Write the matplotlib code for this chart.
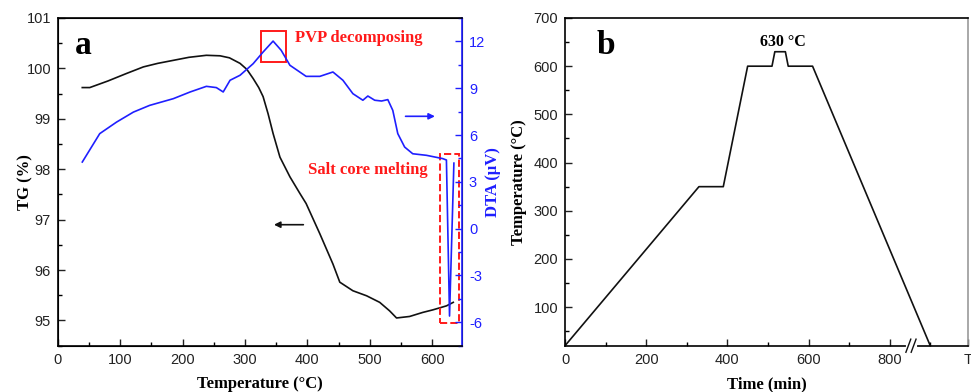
import matplotlib.pyplot as plt
from matplotlib.ticker import MultipleLocator
from matplotlib.patches import Rectangle

# panel a : TG / DTA
tg_T = [39, 51, 80, 110, 137, 160, 185, 210, 238, 260, 275, 292, 303, 313, 322, 329, 337, 345,
        356, 372, 388, 398, 420, 441, 452, 473, 495, 516, 532, 543, 564, 585, 601, 623, 634]
tg = [99.62, 99.62, 99.75, 99.9, 100.03, 100.1, 100.16, 100.22, 100.26, 100.25, 100.21,
      100.1, 99.98, 99.8, 99.62, 99.44, 99.1, 98.71, 98.24, 97.85, 97.52, 97.32, 96.72,
      96.12, 95.76, 95.59, 95.49, 95.36, 95.19, 95.05, 95.08, 95.16, 95.21, 95.29, 95.36]

dta_T = [39, 67, 94, 121, 147, 185, 212, 238, 254, 265, 276, 292, 313, 329, 345, 358,
         372, 398, 420, 441, 457, 473, 489, 497, 508, 519, 529, 537, 545, 556, 569, 591,
         617, 623, 628, 635]
dta = [4.27, 6.09, 6.83, 7.47, 7.9, 8.33, 8.76, 9.12, 9.04, 8.76, 9.51, 9.83, 10.57, 11.32,
       12.02, 11.43, 10.47, 9.76, 9.76, 10.04, 9.51, 8.65, 8.23, 8.5, 8.23, 8.18, 8.27, 7.58,
       6.09, 5.23, 4.8, 4.7, 4.49, 4.4, -5.6, 4.2]

# panel b : heating programme
time = [0, 330, 390, 450, 510, 517, 543, 550, 610, 900]
temp = [20, 350, 350, 600, 600, 630, 630, 600, 600, 20]

sans = 'Liberation Sans'
serif = 'Liberation Serif'
blue = '#1f1fff'
red = '#ff1a1a'

plt.rcParams['font.family'] = sans
plt.rcParams['xtick.direction'] = 'in'
plt.rcParams['ytick.direction'] = 'in'
plt.rcParams['axes.unicode_minus'] = False

fig = plt.figure(figsize=(9.71, 3.92), dpi=100)

# ---------------- panel a
ax = fig.add_axes([0.0597, 0.1181, 0.4161, 0.836])
ax2 = ax.twinx()
ax.plot(tg_T, tg, color='#111111', lw=1.2)
ax2.plot(dta_T, dta, color=blue, lw=1.2)

ax.set_xlim(0, 648)
ax.set_ylim(94.5, 101)
ax2.set_ylim(-7.5, 13.5)
ax.xaxis.set_major_locator(MultipleLocator(100))
ax.xaxis.set_minor_locator(MultipleLocator(50))
ax.yaxis.set_major_locator(MultipleLocator(1))
ax.yaxis.set_minor_locator(MultipleLocator(0.5))
ax2.yaxis.set_major_locator(MultipleLocator(3))
ax2.yaxis.set_minor_locator(MultipleLocator(1.5))

for a in (ax, ax2):
    a.tick_params(which='major', length=5, width=1, labelsize=10.5, pad=5)
    a.tick_params(which='minor', length=3, width=1)
ax.tick_params(colors='#222222')
ax2.tick_params(axis='y', which='both', colors=blue)
ax2.spines['right'].set_color(blue)
for s in ax2.spines.values():
    s.set_linewidth(1.2)

ax.set_xlabel('Temperature (\u00b0C)', fontsize=12, fontweight='bold', family=serif, labelpad=7)
ax.set_ylabel('TG (%)', fontsize=12, fontweight='bold', family=serif, labelpad=-5)
ax2.set_ylabel('DTA (\u03bcV)', fontsize=12, fontweight='bold', family=serif, color=blue, labelpad=0)

ax.text(0.042, 0.89, 'a', transform=ax.transAxes, fontsize=24, fontweight='bold', family=serif)

# annotations
ax2.add_patch(Rectangle((325, 10.68), 41.5, 1.97, fill=False, ec=red, lw=1.4))
ax2.add_patch(Rectangle((612, -6.05), 31, 10.85, fill=False, ec=red, lw=1.4, ls='--'))
ax2.text(380, 12.2, 'PVP decomposing', color=red, fontsize=12, fontweight='bold',
         family=serif, ha='left', va='center')
ax2.text(401, 3.74, 'Salt core melting', color=red, fontsize=12, fontweight='bold',
         family=serif, ha='left', va='center')
ax2.annotate('', xy=(609, 7.2), xytext=(553, 7.2),
             arrowprops=dict(arrowstyle='-|>', color=blue, lw=1.2, mutation_scale=9))
ax.annotate('', xy=(342, 96.9), xytext=(398, 96.9),
            arrowprops=dict(arrowstyle='-|>', color='#111111', lw=1.2, mutation_scale=9))

# ---------------- panel b
bx = fig.add_axes([0.5819, 0.1181, 0.415, 0.836])
bx.plot(time, temp, color='#111111', lw=1.2)
bx.set_xlim(0, 993)
bx.set_ylim(20, 700)
bx.set_xticks([0, 200, 400, 600, 800, 993])
bx.set_xticklabels(['0', '200', '400', '600', '800', 'T'])
bx.xaxis.set_minor_locator(MultipleLocator(100))
bx.set_yticks([100, 200, 300, 400, 500, 600, 700])
bx.yaxis.set_minor_locator(MultipleLocator(50))
bx.tick_params(which='major', length=5, width=1, labelsize=10.5, colors='#222222', pad=5)
bx.tick_params(which='minor', length=3, width=1)
for s in bx.spines.values():
    s.set_linewidth(1.2)
bx.spines['right'].set_color('#999999')

bx.set_xlabel('Time (min)', fontsize=12, fontweight='bold', family=serif, labelpad=7)
bx.set_ylabel('Temperature (\u00b0C)', fontsize=12, fontweight='bold', family=serif, labelpad=5)
bx.text(0.078, 0.89, 'b', transform=bx.transAxes, fontsize=24, fontweight='bold', family=serif)
bx.text(536, 651, '630 \u00b0C', fontsize=11.5, fontweight='bold', family=serif,
        ha='center', va='center')

# axis break marks
trans = bx.get_xaxis_transform()
bx.plot([845, 862], [0, 0], color='white', lw=3, transform=trans, clip_on=False, zorder=5)
bx.plot([840, 852], [-0.02, 0.02], color='#111111', lw=1, transform=trans, clip_on=False, zorder=6)
bx.plot([853, 865], [-0.02, 0.02], color='#111111', lw=1, transform=trans, clip_on=False, zorder=6)

fig.savefig('out.png', dpi=100)
